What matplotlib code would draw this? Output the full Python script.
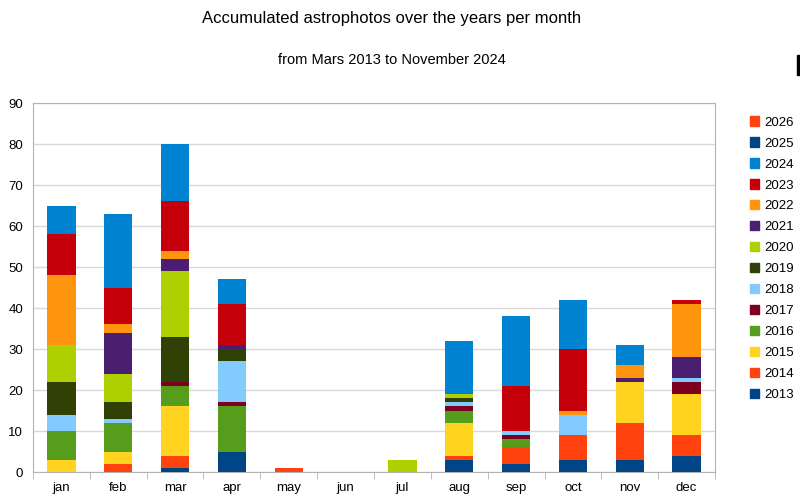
import numpy as np
import matplotlib
matplotlib.use("Agg")
import matplotlib.pyplot as plt
from matplotlib.patches import Patch, Rectangle

plt.rcParams['font.family'] = ['Liberation Sans', 'DejaVu Sans']

months = ["jan", "feb", "mar", "apr", "may", "jun", "jul", "aug", "sep", "oct", "nov", "dec"]
years = ["2013", "2014", "2015", "2016", "2017", "2018", "2019",
         "2020", "2021", "2022", "2023", "2024", "2025", "2026"]

# photos per month, one list per year (jan..dec)
y2013 = [0, 0, 1, 5, 0, 0, 0, 3, 2, 3, 3, 4]
y2014 = [0, 2, 3, 0, 1, 0, 0, 1, 4, 6, 9, 5]
y2015 = [3, 3, 12, 0, 0, 0, 0, 8, 0, 0, 10, 10]
y2016 = [7, 7, 5, 11, 0, 0, 0, 3, 2, 0, 0, 0]
y2017 = [0, 0, 1, 1, 0, 0, 0, 1, 1, 0, 0, 3]
y2018 = [4, 1, 0, 10, 0, 0, 0, 1, 1, 5, 0, 1]
y2019 = [8, 4, 11, 3, 0, 0, 0, 1, 0, 0, 0, 0]
y2020 = [9, 7, 16, 0, 0, 0, 3, 1, 0, 0, 0, 0]
y2021 = [0, 10, 3, 1, 0, 0, 0, 0, 0, 0, 1, 5]
y2022 = [17, 2, 2, 0, 0, 0, 0, 0, 0, 1, 3, 13]
y2023 = [10, 9, 12, 10, 0, 0, 0, 0, 11, 15, 0, 1]
y2024 = [7, 18, 14, 6, 0, 0, 0, 13, 17, 12, 5, 0]
y2025 = [0] * 12
y2026 = [0] * 12

series = [y2013, y2014, y2015, y2016, y2017, y2018, y2019,
          y2020, y2021, y2022, y2023, y2024, y2025, y2026]
colors = ["#004586", "#ff420e", "#ffd320", "#579d1c", "#7e0021", "#83caff", "#314004",
          "#aecf00", "#4b1f6f", "#ff950e", "#c5000b", "#0084d1", "#004586", "#ff420e"]

fig = plt.figure(figsize=(8, 5.03), dpi=100)
ax = fig.add_axes([0.04125, 0.0616, 0.8525, 0.7336])

x = np.arange(len(months))
bottom = np.zeros(len(months))
for vals, c in zip(series, colors):
    ax.bar(x, vals, width=0.5, bottom=bottom, color=c, zorder=3)
    bottom += np.array(vals)

ax.set_xlim(-0.5, 11.5)
ax.set_ylim(0, 90)
ax.set_yticks(range(0, 91, 10))
ax.set_xticks(x)
ax.set_xticklabels(months)
ax.set_xticks(np.arange(-0.5, 12, 1), minor=True)
ax.tick_params(axis='x', which='major', length=0, labelsize=9.5, pad=7)
ax.tick_params(axis='x', which='minor', length=5, color='#b3b3b3', direction='out')
ax.tick_params(axis='y', length=0, labelsize=9.5, pad=7)
ax.grid(axis='y', color='#d9d9d9', linewidth=1, zorder=0)
for s in ax.spines.values():
    s.set_color('#b3b3b3')

handles = [Patch(color=c, label=y) for y, c in zip(years, colors)][::-1]
fig.legend(handles=handles, loc='upper left', bbox_to_anchor=(0.931, 0.779),
           frameon=False, fontsize=9.5, handlelength=0.7, handleheight=0.7,
           handletextpad=0.35, labelspacing=0.66, borderaxespad=0)

fig.text(0.49, 0.963, "Accumulated astrophotos over the years per month",
         ha='center', va='center', fontsize=12)
fig.text(0.49, 0.881, "from Mars 2013 to November 2024",
         ha='center', va='center', fontsize=10.5)
fig.patches.append(Rectangle((0.996, 0.85), 0.01, 0.04, transform=fig.transFigure,
                             color='black'))

fig.savefig("out.png", dpi=100)
